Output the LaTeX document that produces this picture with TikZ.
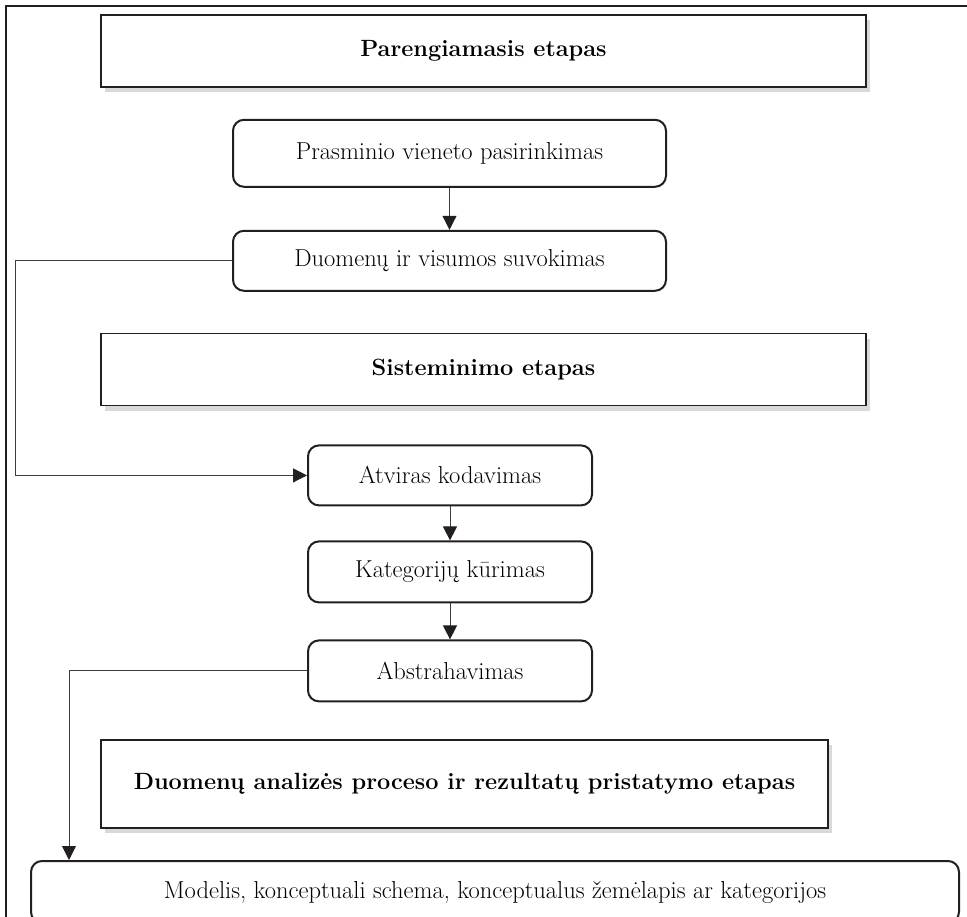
\documentclass[tikz,border=0pt]{standalone}
\usepackage{tikz}
\usepackage{xcolor}
\usetikzlibrary{arrows.meta,positioning,shadows}
\definecolor{rim}{RGB}{35, 31, 32}
\definecolor{wire}{RGB}{60, 60, 60}
\tikzstyle{stage} = [
    rectangle,
    minimum height=72pt,
    text centered,
    draw=rim,
    line width=1.6pt,
    fill=white,
    drop shadow={shadow xshift=4pt, shadow yshift=-5pt, opacity=0.3},
    font=\fontsize{23.5}{28}\selectfont\bfseries
]
\tikzstyle{task} = [
    rectangle,
    rounded corners=11pt,
    text centered,
    draw=rim,
    line width=2pt,
    fill=white,
    font=\fontsize{24.5}{29}\selectfont
]
\tikzstyle{arrow} = [
    line width=1pt,
    draw=wire,
    -{Triangle[length=14pt,width=14pt,color=rim]}
]
\begin{document}
\begin{tikzpicture}[x=1pt, y=-1pt]
        \useasboundingbox (0,0) rectangle (967,917);
        \draw[line width=1.8pt, draw=rim] (6,917) -- (6,6) -- (967,6);

        \node[stage, minimum width=765pt] (paren) at (483.5,51) {Parengiamasis etapas};
        \node[task, minimum width=433pt, minimum height=67pt, below=31pt of paren, xshift=-34pt] (prasm) {Prasminio vieneto pasirinkimas};
        \node[task, minimum width=433pt, minimum height=60pt, below=42pt of prasm] (duom) {Duomenų ir visumos suvokimas};
        \node[stage, minimum width=765pt, below=41pt of duom, xshift=34pt] (sist) {Sisteminimo etapas};
        \node[task, minimum width=284pt, minimum height=60pt, below=38pt of sist, xshift=-33.5pt] (atvir) {Atviras kodavimas};
        \node[task, minimum width=284pt, minimum height=61pt, below=34pt of atvir] (kateg) {Kategorijų kūrimas};
        \node[task, minimum width=284pt, minimum height=61pt, below=36pt of kateg] (abstr) {Abstrahavimas};
        \node[stage, minimum width=727pt, minimum height=88pt, below=37pt of abstr, xshift=14.5pt] (analiz) {Duomenų analizės proceso ir rezultatų pristatymo etapas};
        \node[task, minimum width=928pt, minimum height=62pt, below=31pt of analiz, xshift=30.5pt] (model) {Modelis, konceptuali schema, konceptualus žemėlapis ar kategorijos};

        \coordinate (galas) at ([xshift=39pt]model.north west);

        \draw[arrow] (prasm) -- (duom);
        \draw[arrow] (duom.west) -- ++(-217pt,0) |- (atvir.west);
        \draw[arrow] (atvir) -- (kateg);
        \draw[arrow] (kateg) -- (abstr);
        \draw[arrow] (abstr.west) -| (galas);
    \end{tikzpicture}
\end{document}
